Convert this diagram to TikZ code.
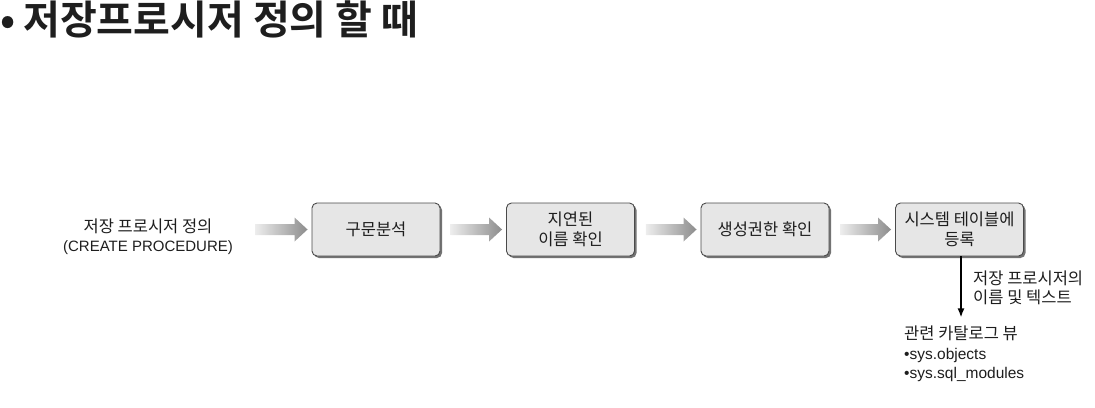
\documentclass[tikz,border=0pt]{standalone}
\usepackage{fontspec}
\setmainfont{Liberation Sans}
\newfontfamily\kr{Noto Sans CJK KR}
\newfontfamily\krb{Noto Sans CJK KR Bold}
\usetikzlibrary{shadows,calc,arrows.meta}
\definecolor{boxfill}{HTML}{E6E6E6}
\definecolor{boxline}{HTML}{4A4A4A}
\definecolor{txt}{HTML}{1E1E1E}
\tikzset{
  stepbox/.style={draw=boxline, line width=0.9pt, fill=boxfill, rounded corners=5pt,
    minimum width=128pt, minimum height=53pt, inner sep=2pt, align=center, text=txt,
    font=\kr\fontsize{16.5}{20}\selectfont,
    drop shadow={shadow xshift=2pt, shadow yshift=-2pt, fill=black!55, opacity=1}},
  plain/.style={inner sep=0pt, text=txt},
}
\newcommand\grarrow[2]{%
  \shade[left color=black!7, right color=black!45]
    let \p1=(#1), \p2=(#2) in
    (\x1,\y1+5.5pt) -- (\x2-13pt,\y1+5.5pt) -- (\x2-13pt,\y1+12pt) -- (\x2,\y1)
    -- (\x2-13pt,\y1-12pt) -- (\x2-13pt,\y1-5.5pt) -- (\x1,\y1-5.5pt) -- cycle;
}
\begin{document}
\begin{tikzpicture}[x=1pt,y=-1pt]
\useasboundingbox (0,0) rectangle (1095,407);
% title
\node[plain, anchor=west, font=\krb\fontsize{40}{43}\selectfont] (title) at (0,19) {•\hspace{8pt}저장프로시저 정의 할 때};
% left text
\node[plain, align=center, font=\fontsize{15}{19}\selectfont] (src) at (148,237)
  {{\kr\fontsize{16.5}{19}\selectfont 저장 프로시저 정의}\\(CREATE PROCEDURE)};
% boxes
\node[stepbox] (b1) at (376,229.5) {구문분석};
\node[stepbox] (b2) at (570.5,229.5) {지연된\\이름 확인};
\node[stepbox] (b3) at (765,229.5) {생성권한 확인};
\node[stepbox] (b4) at (959.5,229.5) {시스템 테이블에\\등록};
% connectors
\coordinate (a1s) at (255,229.5);
\coordinate (a1e) at ($(b1.west)+(-4,0)$);
\grarrow{a1s}{a1e}
\coordinate (a2s) at ($(b1.east)+(10,0)$);
\coordinate (a2e) at ($(b2.west)+(-4,0)$);
\grarrow{a2s}{a2e}
\coordinate (a3s) at ($(b2.east)+(11,0)$);
\coordinate (a3e) at ($(b3.west)+(-4,0)$);
\grarrow{a3s}{a3e}
\coordinate (a4s) at ($(b3.east)+(11,0)$);
\coordinate (a4e) at ($(b4.west)+(-4,0)$);
\grarrow{a4s}{a4e}
% vertical arrow
\coordinate (ve) at ($(b4.south)+(1.5,61)$);
\draw[line width=1.6pt, -{Latex[length=9pt,width=7pt]}] ($(b4.south)+(1.5,0)$) -- (ve);
\node[plain, anchor=west, align=left, font=\kr\fontsize{16.5}{19}\selectfont] (lab) at (973,288)
  {저장 프로시저의\\이름 및 텍스트};
\node[plain, anchor=north west, align=left, font=\fontsize{15.5}{19.5}\selectfont] (views) at (904,326)
  {{\kr\fontsize{16.5}{19}\selectfont 관련 카탈로그 뷰}\\[0pt]•sys.objects\\•sys.sql\_modules};
\end{tikzpicture}
\end{document}
